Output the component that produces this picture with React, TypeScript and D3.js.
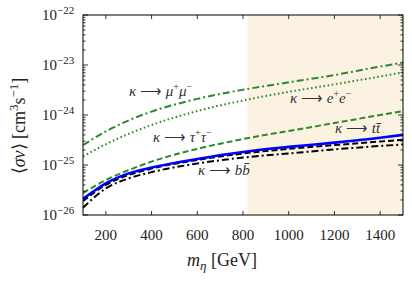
import React from "react";
import * as d3 from "d3";

const masses = [100, 200, 300, 400, 600, 800, 1000, 1200, 1400, 1500];
const muValues = [2.5e-25, 4.7e-25, 7.8e-25, 1.17e-24, 2.1e-24, 3.2e-24, 4.5e-24, 6.3e-24, 9.3e-24, 1.12e-23];
const eValues = [1.48e-25, 2.6e-25, 4.2e-25, 6.3e-25, 1.2e-24, 1.95e-24, 2.9e-24, 4.1e-24, 5.9e-24, 7.1e-24];
const tauValues = [2.75e-26, 5.0e-26, 7.9e-26, 1.17e-25, 2.1e-25, 3.3e-25, 4.8e-25, 6.9e-25, 1.0e-24, 1.2e-24];
const ttValues = [2.1e-26, 4.3e-26, 6.8e-26, 8.9e-26, 1.32e-25, 1.82e-25, 2.3e-25, 2.8e-25, 3.5e-25, 4.0e-25];
const blackDashedValues = [1.9e-26, 4.0e-26, 6.3e-26, 8.5e-26, 1.26e-25, 1.7e-25, 2.1e-25, 2.5e-25, 2.95e-25, 3.2e-25];
const bbValues = [1.4e-26, 3.4e-26, 5.4e-26, 7.2e-26, 1.07e-25, 1.41e-25, 1.7e-25, 2.05e-25, 2.4e-25, 2.57e-25];

const xTicks = [200, 400, 600, 800, 1000, 1200, 1400];
const yExponents = [-22, -23, -24, -25, -26];
const shadeStart = 820;

const W = 412, H = 285;
const L = 83, R = 403, T = 15, B = 215;
const GREEN = "#2b8a2b";
const FONT = "Liberation Serif, serif";

export default function App() {
  const x = d3.scaleLinear().domain([100, 1500]).range([L, R]);
  const y = d3.scaleLog().domain([1e-26, 1e-22]).range([B, T]);
  const line = (vals: number[]) =>
    d3.line<number>().x((_, i) => x(masses[i])).y((v) => y(v)).curve(d3.curveMonotoneX)(vals) || "";

  const series = [
    { vals: bbValues, color: "#000", dash: "7,3,2,3", w: 2 },
    { vals: blackDashedValues, color: "#000", dash: "6,3", w: 2 },
    { vals: ttValues, color: "#0000ff", dash: null, w: 2.6 },
    { vals: tauValues, color: GREEN, dash: "6,3", w: 2 },
    { vals: eValues, color: GREEN, dash: "1.6,2.6", w: 2 },
    { vals: muValues, color: GREEN, dash: "7,3,2,3", w: 2 },
  ];

  const minorY: number[] = [];
  for (let e = -26; e < -22; e++) for (let k = 2; k <= 9; k++) minorY.push(k * Math.pow(10, e));

  const sup = 10;
  return (
    <svg width={W} height={H} style={{ display: "block", position: "absolute", left: 0, top: 0 }}>
      <rect width={W} height={H} fill="#fff" />
      <defs>
        <clipPath id="plotclip">
          <rect x={L} y={T} width={R - L} height={B - T} />
        </clipPath>
      </defs>
      <rect x={x(shadeStart)} y={T} width={R - x(shadeStart)} height={B - T} fill="#fcf2e2" />
      <g clipPath="url(#plotclip)">
        {series.map((s, i) => (
          <path key={i} d={line(s.vals)} fill="none" stroke={s.color} strokeWidth={s.w}
            strokeDasharray={s.dash || undefined} />
        ))}
      </g>
      <g stroke="#000" strokeWidth={0.8}>
        {xTicks.map((t) => (
          <g key={t}>
            <line x1={x(t)} x2={x(t)} y1={B} y2={B - 4} />
            <line x1={x(t)} x2={x(t)} y1={T} y2={T + 4} />
          </g>
        ))}
        {yExponents.map((e) => (
          <g key={e}>
            <line x1={L} x2={L + 5} y1={y(Math.pow(10, e))} y2={y(Math.pow(10, e))} />
            <line x1={R} x2={R - 5} y1={y(Math.pow(10, e))} y2={y(Math.pow(10, e))} />
          </g>
        ))}
        {minorY.map((v, i) => (
          <g key={i}>
            <line x1={L} x2={L + 2.5} y1={y(v)} y2={y(v)} />
            <line x1={R} x2={R - 2.5} y1={y(v)} y2={y(v)} />
          </g>
        ))}
      </g>
      <rect x={L} y={T} width={R - L} height={B - T} fill="none" stroke="#000" strokeWidth={1} />
      <g fontFamily={FONT} fill="#222">
        {xTicks.map((t) => (
          <text key={t} x={x(t)} y={240} fontSize={15} textAnchor="middle">{t}</text>
        ))}
        {yExponents.map((e) => (
          <text key={e} x={42} y={y(Math.pow(10, e)) + 5} fontSize={15}>
            10<tspan dy={-6} fontSize={11}>{"\u2212" + Math.abs(e)}</tspan>
          </text>
        ))}
      </g>
      <text x={222} y={266} fontFamily={FONT} fontSize={18} textAnchor="middle" fill="#222">
        <tspan fontStyle="italic">m</tspan><tspan dy={4} fontSize={13} fontStyle="italic">η</tspan>
        <tspan dy={-4}> [GeV]</tspan>
      </text>
      <text transform="translate(25,126) rotate(-90)" fontFamily={FONT} fontSize={18} textAnchor="middle" fill="#222">
        ⟨<tspan fontStyle="italic">σv</tspan>⟩ [cm<tspan dy={-7} fontSize={13}>3</tspan>
        <tspan dy={7}>s</tspan><tspan dy={-7} fontSize={13}>−1</tspan><tspan dy={7}>]</tspan>
      </text>
      <g fontFamily={FONT} fontSize={15} fill="#333">
        <text x={129} y={96}>
          <tspan fontStyle="italic">κ</tspan> ⟶ <tspan fontStyle="italic">μ</tspan><tspan dy={-6} fontSize={sup}>+</tspan>
          <tspan dy={6} fontStyle="italic">μ</tspan><tspan dy={-6} fontSize={sup}>−</tspan>
        </text>
        <text x={290} y={103}>
          <tspan fontStyle="italic">κ</tspan> ⟶ <tspan fontStyle="italic">e</tspan><tspan dy={-6} fontSize={sup}>+</tspan>
          <tspan dy={6} fontStyle="italic">e</tspan><tspan dy={-6} fontSize={sup}>−</tspan>
        </text>
        <text x={153} y={142}>
          <tspan fontStyle="italic">κ</tspan> ⟶ <tspan fontStyle="italic">τ</tspan><tspan dy={-6} fontSize={sup}>+</tspan>
          <tspan dy={6} fontStyle="italic">τ</tspan><tspan dy={-6} fontSize={sup}>−</tspan>
        </text>
        <text x={335} y={133}>
          <tspan fontStyle="italic">κ</tspan> ⟶ <tspan fontStyle="italic">t{"t\u0304"}</tspan>
        </text>
        <text x={198} y={175}>
          <tspan fontStyle="italic">κ</tspan> ⟶ <tspan fontStyle="italic">b{"b\u0304"}</tspan>
        </text>
      </g>
    </svg>
  );
}
